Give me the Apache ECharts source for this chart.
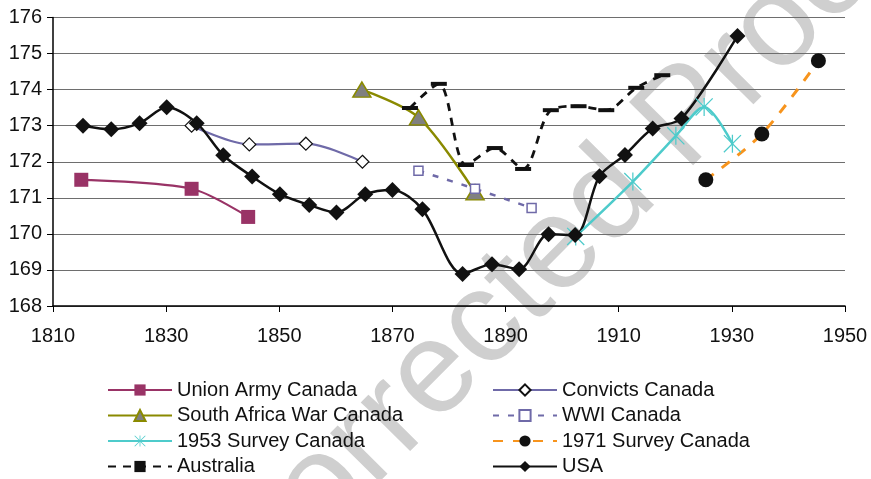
<!DOCTYPE html>
<html>
<head>
<meta charset="utf-8">
<script src="https://cdn.jsdelivr.net/npm/echarts@6/dist/echarts.min.js"></script>
<style>
html,body{margin:0;padding:0;background:#fff;}
#chart{width:871px;height:479px;}
</style>
</head>
<body>
<div id="chart"></div>
<script>
// ---- data ----
var xTicks = [1810, 1830, 1850, 1870, 1890, 1910, 1930, 1950];
var yTicks = [168, 169, 170, 171, 172, 173, 174, 175, 176];

var unionYears = [1815, 1834.5, 1844.5];
var unionValues = [171.5, 171.25, 170.47];

var convictsYears = [1834.5, 1844.7, 1854.7, 1864.7];
var convictsValues = [173.0, 172.48, 172.5, 172.0];

var southAfricaYears = [1864.6, 1874.6, 1884.6];
var southAfricaValues = [174.0, 173.23, 171.15];

var wwiYears = [1874.6, 1884.6, 1894.6];
var wwiValues = [171.75, 171.25, 170.72];

var survey1953Years = [1902.4, 1912.5, 1920.1, 1925.1, 1930.1];
var survey1953Values = [169.93, 171.45, 172.72, 173.52, 172.5];

var survey1971Years = [1925.4, 1935.3, 1945.3];
var survey1971Values = [171.5, 172.77, 174.8];

var australiaYears = [1873.1, 1878.2, 1883.0, 1888.1, 1893.1, 1898.0, 1902.9, 1907.8, 1913.1, 1917.7];
var australiaValues = [173.49, 174.16, 171.91, 172.38, 171.8, 173.43, 173.54, 173.43, 174.05, 174.4];

var usaYears = [1815.3, 1820.3, 1825.3, 1830.1, 1835.4, 1840.1, 1845.2, 1850.1, 1855.3, 1860.1, 1865.2, 1870.0, 1875.3, 1882.4, 1887.6, 1892.4, 1897.6, 1902.3, 1906.6, 1911.1, 1916.0, 1921.1, 1931.0];
var usaValues = [173.0, 172.9, 173.07, 173.51, 173.07, 172.18, 171.59, 171.1, 170.8, 170.59, 171.1, 171.22, 170.68, 168.89, 169.16, 169.02, 169.99, 169.97, 171.6, 172.19, 172.92, 173.2, 175.49];

var watermarkText = 'Corrected Proof';

function pairs(xs, ys) {
  return xs.map(function (x, i) { return [x, ys[i]]; });
}

var asterisk = 'path://M9.3,0L10.7,0L10.7,20L9.3,20Z M0,1L1,0L20,19L19,20Z M19,0L20,1L1,20L0,19Z';
var FONT = 'Liberation Sans, Arial, sans-serif';
var SM = 0.3;

var chart = echarts.init(document.getElementById('chart'), null, {renderer: 'canvas'});

var legendCommon = {
  orient: 'vertical',
  top: 380,
  height: 110,
  padding: 0,
  itemWidth: 64,
  itemHeight: 14,
  itemGap: 5.5,
  textStyle: {fontSize: 20, color: '#111', fontFamily: FONT, lineHeight: 20}
};

var option = {
  animation: false,
  backgroundColor: '#ffffff',
  textStyle: {fontFamily: FONT},
  grid: {left: 53, right: 26, top: 17.5, bottom: 173, containLabel: false},
  graphic: [{
    type: 'text',
    z: -10,
    zlevel: 0,
    x: 276,
    y: 628,
    rotation: 0.79,
    silent: true,
    style: {
      text: watermarkText,
      fontFamily: FONT,
      fontSize: 131,
      fill: '#cfcfcf',
      textAlign: 'left',
      textVerticalAlign: 'bottom'
    }
  }],
  legend: [
    Object.assign({}, legendCommon, {left: 107, data: ['Union Army Canada', 'South Africa War Canada', '1953 Survey Canada', 'Australia']}),
    Object.assign({}, legendCommon, {left: 492, data: ['Convicts Canada', 'WWI Canada', '1971 Survey Canada', 'USA']})
  ],
  xAxis: {
    type: 'value',
    min: xTicks[0],
    max: xTicks[xTicks.length - 1],
    interval: 20,
    axisLine: {show: true, onZero: false, lineStyle: {color: '#000', width: 1.5}},
    axisTick: {show: true, length: 6, lineStyle: {color: '#000', width: 1}},
    axisLabel: {fontSize: 20, color: '#111', margin: 20, fontFamily: FONT,
      formatter: function (v) { return String(v); }},
    splitLine: {show: false}
  },
  yAxis: {
    type: 'value',
    min: yTicks[0],
    max: yTicks[yTicks.length - 1],
    interval: 1,
    axisLine: {show: true, onZero: false, lineStyle: {color: '#000', width: 1.5}},
    axisTick: {show: true, length: 6, lineStyle: {color: '#000', width: 1}},
    axisLabel: {fontSize: 20, color: '#111', margin: 11, fontFamily: FONT},
    splitLine: {show: true, lineStyle: {color: '#6e6e6e', width: 1.2}}
  },
  series: [{
    name: 'Union Army Canada',
    type: 'line',
    smooth: SM,
    data: pairs(unionYears, unionValues),
    symbol: 'rect',
    symbolSize: 14,
    lineStyle: {color: '#993366', width: 2.2},
    itemStyle: {color: '#993366'}
  }, {
    name: 'Convicts Canada',
    type: 'line',
    smooth: SM,
    data: pairs(convictsYears, convictsValues),
    symbol: 'diamond',
    symbolSize: 13,
    lineStyle: {color: '#6f6aa8', width: 2.2},
    itemStyle: {color: '#ffffff', borderColor: '#111', borderWidth: 1.2}
  }, {
    name: 'South Africa War Canada',
    type: 'line',
    smooth: SM,
    data: pairs(southAfricaYears, southAfricaValues),
    symbol: 'triangle',
    symbolSize: [18, 15],
    lineStyle: {color: '#8a8a00', width: 2.5},
    itemStyle: {color: '#808080', borderColor: '#8a8a00', borderWidth: 1.5}
  }, {
    name: 'WWI Canada',
    type: 'line',
    smooth: SM,
    data: pairs(wwiYears, wwiValues),
    symbol: 'rect',
    symbolSize: 9,
    lineStyle: {color: '#6f6aa8', width: 2.5, type: [6, 9]},
    itemStyle: {color: '#ffffff', borderColor: '#6f6aa8', borderWidth: 1.5}
  }, {
    name: '1953 Survey Canada',
    type: 'line',
    smooth: SM,
    data: pairs(survey1953Years, survey1953Values),
    symbol: asterisk,
    symbolSize: 18,
    lineStyle: {color: '#4ecbcb', width: 2.5},
    itemStyle: {color: '#4ecbcb'}
  }, {
    name: '1971 Survey Canada',
    type: 'line',
    smooth: SM,
    data: pairs(survey1971Years, survey1971Values),
    symbol: 'circle',
    symbolSize: 15,
    lineStyle: {color: '#f7941d', width: 3, type: [10, 10]},
    itemStyle: {color: '#111111'}
  }, {
    name: 'Australia',
    type: 'line',
    smooth: SM,
    data: pairs(australiaYears, australiaValues),
    symbol: 'rect',
    symbolSize: [16, 4],
    lineStyle: {color: '#111111', width: 2.8, type: [8, 7]},
    itemStyle: {color: '#111111'}
  }, {
    name: 'USA',
    type: 'line',
    smooth: SM,
    data: pairs(usaYears, usaValues),
    symbol: 'diamond',
    symbolSize: 16,
    lineStyle: {color: '#111111', width: 2.5},
    itemStyle: {color: '#111111'}
  }]
};

chart.setOption(option);
</script>
</body>
</html>
